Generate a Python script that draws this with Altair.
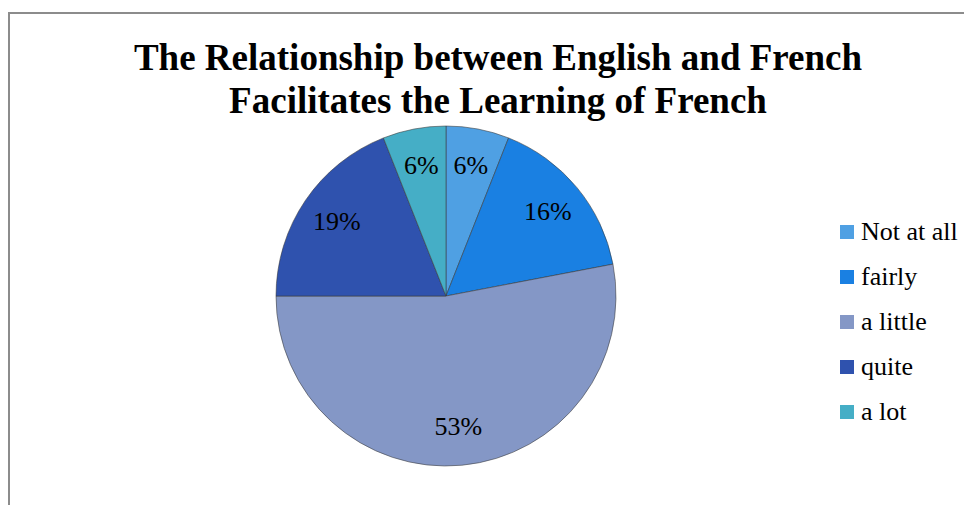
import altair as alt
import pandas as pd

categories = ["Not at all", "fairly", "a little", "quite", "a lot"]
values = [6, 16, 53, 19, 6]
labels = ["6%", "16%", "53%", "19%", "6%"]
colors = ["#4FA0E3", "#1A80E2", "#8497C6", "#2F52AE", "#45AEC6"]

df = pd.DataFrame({
    "cat": categories,
    "val": values,
    "lab": labels,
    "ord": list(range(len(categories))),
})

FONT = "Liberation Serif"
W, H = 956, 497
CX, CY = 438, 288

base = alt.Chart(df).encode(
    theta=alt.Theta("val:Q", stack=True),
    order=alt.Order("ord:Q"),
)

pie = base.mark_arc(outerRadius=170, stroke="#3a3a3a", strokeWidth=0.7, strokeOpacity=0.8).encode(
    x=alt.value(CX),
    y=alt.value(CY),
    color=alt.Color(
        "cat:N",
        sort=categories,
        scale=alt.Scale(domain=categories, range=colors),
        legend=alt.Legend(
            title=None,
            orient="none",
            legendX=826,
            legendY=211,
            padding=0,
            symbolType="square",
            symbolSize=196,
            symbolStrokeWidth=0,
            labelFont=FONT,
            labelFontSize=26,
            labelColor="#000000",
            labelOffset=1,
            rowPadding=19,
        ),
    ),
)

text = base.mark_text(radius=132, font=FONT, fontSize=26, color="#000000").encode(
    x=alt.value(CX),
    y=alt.value(CY),
    text="lab:N",
)

border_df = pd.DataFrame({"a": [0]})
top_rule = alt.Chart(border_df).mark_rule(color="#8c8c8c", strokeWidth=2).encode(
    x=alt.value(0), x2=alt.value(W), y=alt.value(5)
)
left_rule = alt.Chart(border_df).mark_rule(color="#8c8c8c", strokeWidth=2).encode(
    x=alt.value(1), y=alt.value(5), y2=alt.value(H)
)

chart = alt.layer(top_rule, left_rule, pie, text).properties(
    width=W,
    height=H,
    autosize=alt.AutoSizeParams(type="none"),
    padding={"left": 0, "top": 0, "right": 0, "bottom": 0},
    title=alt.TitleParams(
        text=["The Relationship between English and French", "Facilitates the Learning of French"],
        font=FONT,
        fontSize=37,
        fontWeight="bold",
        color="#000000",
        anchor="middle",
        frame="group",
        baseline="top",
        lineHeight=43,
        offset=0,
        dx=12,
        dy=113,
    ),
).configure(font=FONT).configure_legend(
    labelFont=FONT, labelFontSize=26, padding=0
).configure_text(font=FONT).configure_view(stroke=None)

chart.save("out.html", embed_options={"renderer": "svg", "actions": False})
